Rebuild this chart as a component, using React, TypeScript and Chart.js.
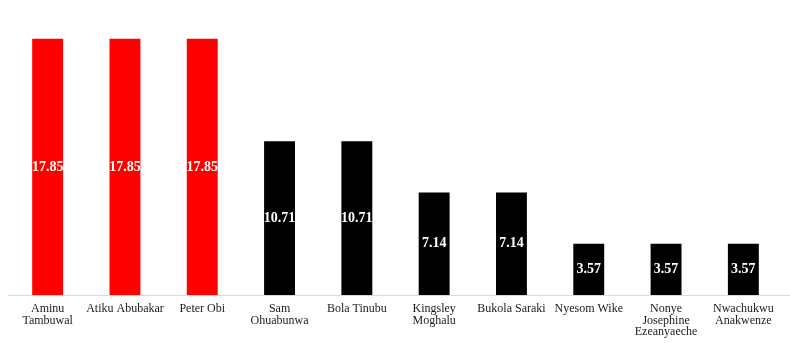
import React, { useEffect, useRef } from "react";
import { Chart, registerables } from "chart.js";

Chart.register(...registerables);

const categories: (string | string[])[] = [
  ["Aminu", "Tambuwal"],
  "Atiku Abubakar",
  "Peter Obi",
  ["Sam", "Ohuabunwa"],
  "Bola Tinubu",
  ["Kingsley", "Moghalu"],
  "Bukola Saraki",
  "Nyesom Wike",
  ["Nonye", "Josephine", "Ezeanyaeche"],
  ["Nwachukwu", "Anakwenze"],
];

const values: number[] = [17.85, 17.85, 17.85, 10.71, 10.71, 7.14, 7.14, 3.57, 3.57, 3.57];
const valueLabels: string[] = ["17.85", "17.85", "17.85", "10.71", "10.71", "7.14", "7.14", "3.57", "3.57", "3.57"];
const barColors: string[] = ["#FF0000", "#FF0000", "#FF0000", "#000000", "#000000", "#000000", "#000000", "#000000", "#000000", "#000000"];

const baselinePlugin = {
  id: "baseline",
  beforeDatasetsDraw(chart: any) {
    const { ctx } = chart;
    const y = chart.scales.y.getPixelForValue(0);
    ctx.save();
    ctx.strokeStyle = "#d9d9d9";
    ctx.lineWidth = 1;
    ctx.beginPath();
    ctx.moveTo(8, Math.round(y) + 0.5);
    ctx.lineTo(chart.width, Math.round(y) + 0.5);
    ctx.stroke();
    ctx.restore();
  },
};

const valueLabelPlugin = {
  id: "valueLabels",
  afterDatasetsDraw(chart: any) {
    const { ctx } = chart;
    const meta = chart.getDatasetMeta(0);
    ctx.save();
    ctx.fillStyle = "#FFFFFF";
    ctx.font = "bold 14px 'Liberation Serif', serif";
    ctx.textAlign = "center";
    ctx.textBaseline = "middle";
    meta.data.forEach((bar: any, i: number) => {
      const cy = (bar.y + bar.base) / 2;
      ctx.fillText(valueLabels[i], bar.x, cy);
    });
    ctx.restore();
  },
};

export default function App() {
  const canvasRef = useRef<HTMLCanvasElement | null>(null);

  useEffect(() => {
    if (!canvasRef.current) return;
    const chart = new Chart(canvasRef.current, {
      type: "bar",
      data: {
        labels: categories,
        datasets: [
          {
            data: values,
            backgroundColor: barColors,
            borderWidth: 0,
            barPercentage: 0.4,
            categoryPercentage: 1,
          },
        ],
      },
      options: {
        animation: false,
        responsive: true,
        maintainAspectRatio: false,
        layout: { padding: { left: 9, right: 8, top: 8, bottom: 0 } },
        plugins: {
          legend: { display: false },
          tooltip: { enabled: false },
        },
        scales: {
          x: {
            grid: { display: false },
            border: { display: false },
            ticks: {
              color: "#1a1a1a",
              padding: 0,
              maxRotation: 0,
              autoSkip: false,
              font: { family: "'Liberation Serif', serif", size: 12, lineHeight: 0.97 },
            },
            afterFit(scale: any) {
              scale.height = 48;
            },
          },
          y: {
            display: false,
            min: 0,
            max: 20,
          },
        },
      },
      plugins: [baselinePlugin, valueLabelPlugin],
    });
    return () => chart.destroy();
  }, []);

  return (
    <div style={{ position: "absolute", left: 0, top: 0, width: 790, height: 343, background: "#fff" }}>
      <canvas ref={canvasRef} />
    </div>
  );
}
